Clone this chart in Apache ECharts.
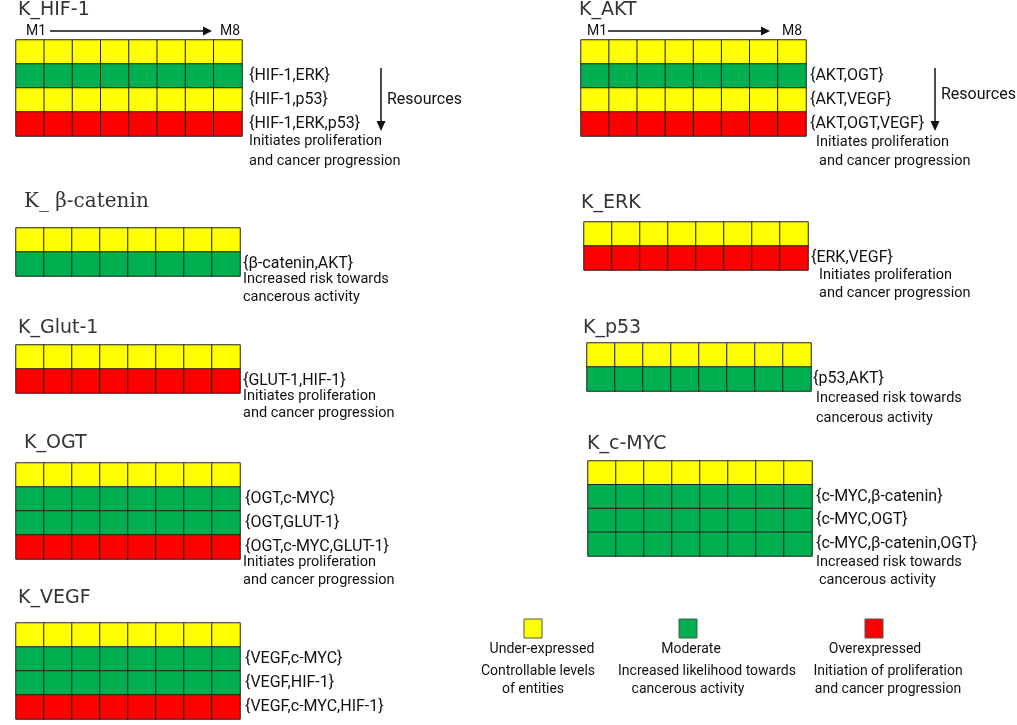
<!DOCTYPE html>
<html>
<head>
<meta charset="utf-8">
<script src="https://cdn.jsdelivr.net/npm/echarts@6/dist/echarts.min.js"></script>
<style>
  html, body { margin: 0; padding: 0; background: #fff; }
  #main { width: 1017px; height: 725px; }
</style>
</head>
<body>
<div id="main"></div>
<script>
// columns M1..M8
var months = ['M1', 'M2', 'M3', 'M4', 'M5', 'M6', 'M7', 'M8'];
// 0 = under-expressed, 1 = moderate, 2 = overexpressed
var levelNames = ['Under-expressed', 'Moderate', 'Overexpressed'];
var levelColors = ['#ffff00', '#00b050', '#ff0000'];

var hif1Levels = [0, 1, 0, 2];
var hif1Rows = ['', '{HIF-1,ERK}', '{HIF-1,p53}', '{HIF-1,ERK,p53}'];
var aktLevels = [0, 1, 0, 2];
var aktRows = ['', '{AKT,OGT}', '{AKT,VEGF}', '{AKT,OGT,VEGF}'];
var bcatLevels = [0, 1];
var bcatRows = ['', '{β-catenin,AKT}'];
var erkLevels = [0, 2];
var erkRows = ['', '{ERK,VEGF}'];
var glutLevels = [0, 2];
var glutRows = ['', '{GLUT-1,HIF-1}'];
var p53Levels = [0, 1];
var p53Rows = ['', '{p53,AKT}'];
var ogtLevels = [0, 1, 1, 2];
var ogtRows = ['', '{OGT,c-MYC}', '{OGT,GLUT-1}', '{OGT,c-MYC,GLUT-1}'];
var mycLevels = [0, 1, 1, 1];
var mycRows = ['', '{c-MYC,β-catenin}', '{c-MYC,OGT}', '{c-MYC,β-catenin,OGT}'];
var vegfLevels = [0, 1, 1, 2];
var vegfRows = ['', '{VEGF,c-MYC}', '{VEGF,HIF-1}', '{VEGF,c-MYC,HIF-1}'];

var FONT = 'Roboto';

var panels = [
  { title: 'K_HIF-1', levels: hif1Levels, rows: hif1Rows, left: 16, top: 40, width: 226, height: 96, margin: 7, tx: 18, ty: 10 },
  { title: 'K_AKT', levels: aktLevels, rows: aktRows, left: 581, top: 40, width: 225, height: 96, margin: 4, tx: 579, ty: 10 },
  { title: 'K_ β-catenin', levels: bcatLevels, rows: bcatRows, left: 16, top: 228, width: 224, height: 48, margin: 3, tx: 24, ty: 202, serif: true },
  { title: 'K_ERK', levels: erkLevels, rows: erkRows, left: 584, top: 222, width: 224, height: 48, margin: 3, tx: 581, ty: 203 },
  { title: 'K_Glut-1', levels: glutLevels, rows: glutRows, left: 16, top: 345, width: 224, height: 48, margin: 3, tx: 18, ty: 328 },
  { title: 'K_p53', levels: p53Levels, rows: p53Rows, left: 587, top: 343, width: 224, height: 48, margin: 2, tx: 583, ty: 328 },
  { title: 'K_OGT', levels: ogtLevels, rows: ogtRows, left: 16, top: 463, width: 224, height: 96, margin: 5, tx: 24, ty: 443 },
  { title: 'K_c-MYC', levels: mycLevels, rows: mycRows, left: 588, top: 461, width: 224, height: 95, margin: 4, tx: 587, ty: 444 },
  { title: 'K_VEGF', levels: vegfLevels, rows: vegfRows, left: 16, top: 623, width: 224, height: 96, margin: 5, tx: 18, ty: 598 }
];

var captions = [
  ['Initiates proliferation', 249, 141], ['and cancer progression', 249, 161],
  ['Initiates proliferation', 816, 142], ['and cancer progression', 819, 161],
  ['Increased risk towards', 243, 279], ['cancerous activity', 243, 297],
  ['Initiates proliferation', 819, 275], ['and cancer progression', 819, 293],
  ['Initiates proliferation', 243, 396], ['and cancer progression', 243, 413],
  ['Increased risk towards', 816, 398], ['cancerous activity', 816, 418],
  ['Initiates proliferation', 243, 562], ['and cancer progression', 243, 580],
  ['Increased risk towards', 816, 562], ['cancerous activity', 819, 580]
];

var legendText = [
  [levelNames[0], 'Controllable levels', 'of entities'],
  [levelNames[1], 'Increased likelihood towards', 'cancerous activity'],
  [levelNames[2], 'Initiation of proliferation', 'and cancer progression']
];

var chart = echarts.init(document.getElementById('main'));

var grids = [], xAxes = [], yAxes = [], series = [], graphics = [];

panels.forEach(function (p, i) {
  grids.push({ left: p.left, top: p.top, width: p.width, height: p.height });
  xAxes.push({ type: 'category', gridIndex: i, data: months, show: false });
  yAxes.push({
    type: 'category', gridIndex: i, data: p.rows, inverse: true, position: 'right',
    axisLine: { show: false }, axisTick: { show: false }, splitLine: { show: false },
    axisLabel: { margin: p.margin, fontSize: 16, color: '#111', fontFamily: FONT, interval: 0 }
  });
  var data = [];
  p.levels.forEach(function (lv, r) {
    months.forEach(function (m, c) { data.push([c, r, lv]); });
  });
  series.push({
    type: 'heatmap', xAxisIndex: i, yAxisIndex: i, data: data, silent: true,
    itemStyle: { borderColor: '#222', borderWidth: 1 }
  });
  graphics.push({
    type: 'text', x: p.tx, y: p.ty,
    style: {
      text: p.title, fill: '#333', verticalAlign: 'middle',
      font: p.serif ? '20px "DejaVu Serif"' : '19px "DejaVu Sans"'
    }
  });
});

// M1 -> M8 arrows
[[26, 50, 212, 220], [587, 608, 770, 782]].forEach(function (a) {
  graphics.push({ type: 'text', x: a[0], y: 31, style: { text: 'M1', font: '14px ' + FONT, fill: '#111', verticalAlign: 'middle' } });
  graphics.push({ type: 'line', shape: { x1: a[1], y1: 31, x2: a[2] - 6, y2: 31 }, style: { stroke: '#111', lineWidth: 1.5 } });
  graphics.push({ type: 'polygon', shape: { points: [[a[2], 31], [a[2] - 9, 26.5], [a[2] - 9, 35.5]] }, style: { fill: '#111' } });
  graphics.push({ type: 'text', x: a[3], y: 31, style: { text: 'M8', font: '14px ' + FONT, fill: '#111', verticalAlign: 'middle' } });
});

// Resources arrows
[[381, 387, 100], [935, 941, 95]].forEach(function (a) {
  graphics.push({ type: 'line', shape: { x1: a[0], y1: 68, x2: a[0], y2: 124 }, style: { stroke: '#111', lineWidth: 1.5 } });
  graphics.push({ type: 'polygon', shape: { points: [[a[0], 131], [a[0] - 4.5, 121], [a[0] + 4.5, 121]] }, style: { fill: '#111' } });
  graphics.push({ type: 'text', x: a[1], y: a[2], style: { text: 'Resources', font: '16px ' + FONT, fill: '#111', verticalAlign: 'middle' } });
});

captions.forEach(function (c) {
  graphics.push({ type: 'text', x: c[1], y: c[2], style: { text: c[0], font: '14.5px ' + FONT, fill: '#111', verticalAlign: 'middle' } });
});

// legend
var legendBox = [524, 679, 865];
var legendCx = [[542, 538, 533], [691, 707, 688], [875, 888, 888]];
legendBox.forEach(function (bx, k) {
  graphics.push({ type: 'rect', shape: { x: bx, y: 619, width: 18, height: 19 }, style: { fill: levelColors[k], stroke: '#555', lineWidth: 1 } });
  [649, 671, 689].forEach(function (ly, j) {
    graphics.push({ type: 'text', x: legendCx[k][j], y: ly, style: { text: legendText[k][j], font: '14px ' + FONT, fill: '#111', align: 'center', verticalAlign: 'middle' } });
  });
});

chart.setOption({
  animation: false,
  grid: grids,
  xAxis: xAxes,
  yAxis: yAxes,
  visualMap: {
    type: 'piecewise', show: false, dimension: 2,
    pieces: levelColors.map(function (col, k) { return { value: k, color: col }; })
  },
  series: series,
  graphic: graphics
});
</script>
</body>
</html>
